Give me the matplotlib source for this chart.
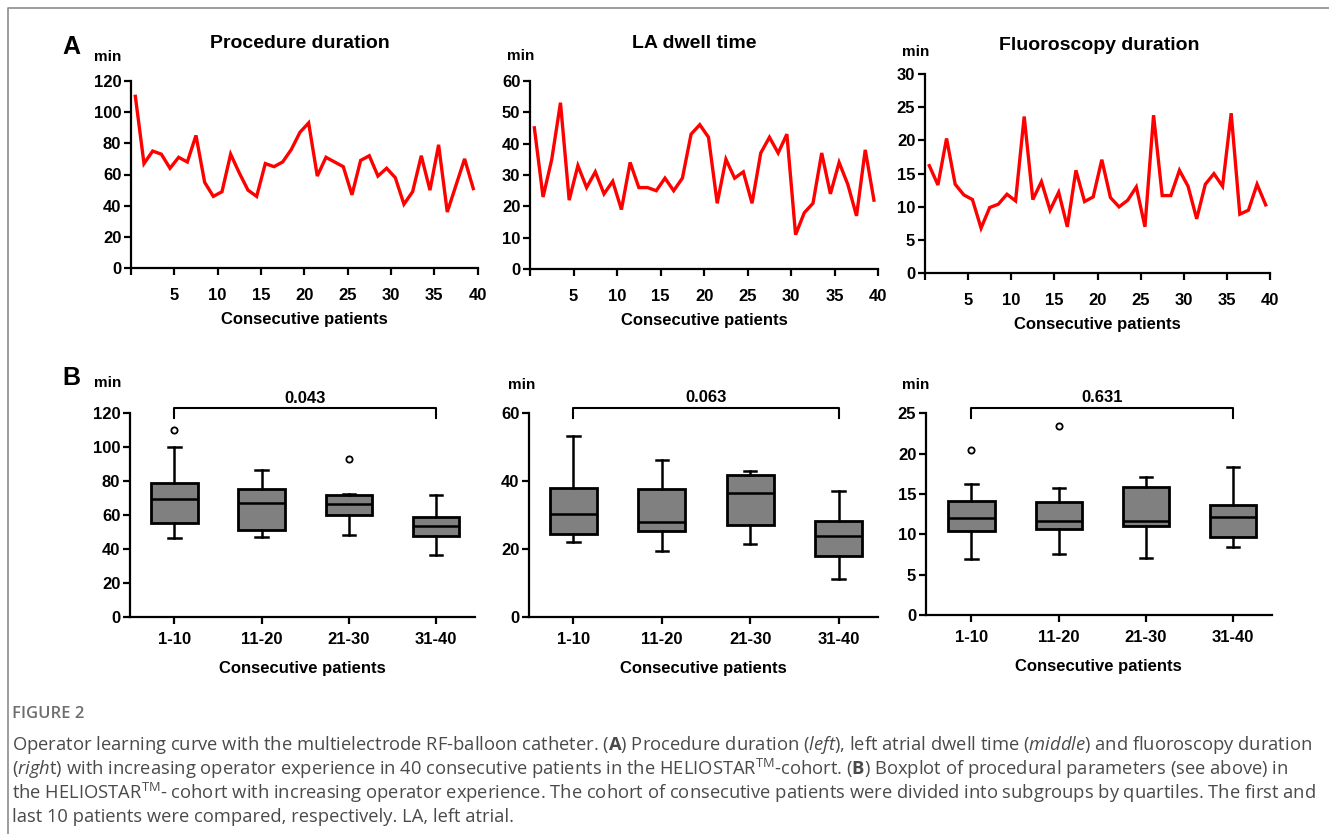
import numpy as np
import matplotlib
matplotlib.use('Agg')
import matplotlib.pyplot as plt
from matplotlib.lines import Line2D

plt.rcParams['font.family'] = ['Liberation Sans', 'DejaVu Sans']
plt.rcParams['mathtext.fontset'] = 'custom'
plt.rcParams['mathtext.rm'] = 'Open Sans'
plt.rcParams['mathtext.it'] = 'Open Sans:italic'
plt.rcParams['mathtext.bf'] = 'Open Sans:bold'

# learning curve, 40 consecutive patients
patients = np.arange(1, 41)
procedure = [110, 67, 75, 73, 64, 71, 68, 85, 55, 46,
             49, 73, 61, 50, 46, 67, 65, 68, 76, 87,
             93, 59, 71, 68, 65, 47, 69, 72, 59, 64,
             58, 41, 49, 72, 50, 79, 36, 53, 70, 51]
la_dwell = [45, 23, 35, 53, 22, 33, 26, 31, 24, 28,
            19, 34, 26, 26, 25, 29, 25, 29, 43, 46,
            42, 21, 35, 29, 31, 21, 37, 42, 37, 43,
            11, 18, 21, 37, 24, 34, 27, 17, 38, 22]
fluoro = [16.2, 13.3, 20.3, 13.4, 11.8, 11.1, 6.8, 9.9, 10.4, 11.9,
          10.9, 23.6, 11.1, 13.8, 9.5, 12.2, 7.0, 15.5, 10.8, 11.5,
          17.1, 11.4, 10.0, 11.0, 13.0, 7.0, 23.8, 11.7, 11.7, 15.5,
          13.1, 8.2, 13.4, 15.0, 13.1, 24.1, 8.9, 9.5, 13.4, 10.3]

# boxplot summaries per quartile group
groups = ['1-10', '11-20', '21-30', '31-40']
proc_whislo = [46.6, 46.8, 48.2, 36.4]
proc_q1 = [55.3, 51.1, 59.8, 47.8]
proc_med = [69.6, 66.9, 66.3, 53.5]
proc_q3 = [79.0, 75.3, 71.8, 58.6]
proc_whishi = [100.0, 86.8, 72.6, 72.0]
proc_fliers = [[110.4], [], [93.0], []]

la_whislo = [22.0, 19.5, 21.3, 11.1]
la_q1 = [24.3, 25.4, 27.1, 17.9]
la_med = [30.3, 27.9, 36.5, 23.9]
la_q3 = [37.9, 37.7, 41.8, 28.2]
la_whishi = [53.4, 46.2, 42.9, 37.1]
la_fliers = [[], [], [], []]

fl_whislo = [6.9, 7.5, 7.1, 8.4]
fl_q1 = [10.4, 10.6, 11.0, 9.7]
fl_med = [12.0, 11.7, 11.7, 12.2]
fl_q3 = [14.1, 14.0, 15.9, 13.6]
fl_whishi = [16.2, 15.8, 17.1, 18.4]
fl_fliers = [[20.4], [23.4], [], []]

p_values = ['0.043', '0.063', '0.631']

W, H = 1329, 834
fig = plt.figure(figsize=(W / 100, H / 100), dpi=100)


def px_axes(x0, x1, ytop, ybot):
    return fig.add_axes([x0 / W, 1 - ybot / H, (x1 - x0) / W, (ybot - ytop) / H])


def style_axes(ax):
    for s in ['top', 'right']:
        ax.spines[s].set_visible(False)
    for s in ['left', 'bottom']:
        ax.spines[s].set_linewidth(1.6)
    ax.tick_params(width=1.6, length=5, labelsize=12, direction='out')
    for lab in ax.get_xticklabels() + ax.get_yticklabels():
        lab.set_fontweight('bold')


# ---- row A: line charts
line_specs = [
    (procedure, 131, 477.6, 80.7, 268.3, 120, 20, 'Procedure duration', 300, 43, 108, 57),
    (la_dwell, 530, 878.3, 80.7, 269.3, 60, 10, 'LA dwell time', 694, 43, 521, 56),
    (fluoro, 925, 1270, 74, 273.3, 30, 5, 'Fluoroscopy duration', 1099, 45, 916, 52),
]
for vals, x0, x1, yt, yb, ymax, ystep, title, tx, ty, mx, my in line_specs:
    ax = px_axes(x0, x1, yt, yb)
    ax.plot(patients - 0.5, vals, color='#ff0000', lw=2.4, solid_joinstyle='miter')
    ax.set_xlim(0, 40)
    ax.set_ylim(0, ymax)
    ax.set_xticks(np.arange(0, 41, 5))
    ax.set_xticklabels([''] + [str(v) for v in range(5, 41, 5)])
    ax.set_yticks(np.arange(0, ymax + 1, ystep))
    style_axes(ax)
    ax.tick_params(axis='x', pad=9)
    ax.tick_params(axis='y', pad=2)
    ax.set_xlabel('Consecutive patients', fontsize=12, fontweight='bold', labelpad=7)
    fig.text(tx / W, 1 - ty / H, title, fontsize=14, fontweight='bold', ha='center', va='center')
    fig.text(mx / W, 1 - my / H, 'min', fontsize=11, fontweight='bold', ha='center', va='center')

# ---- row B: boxplots
box_specs = [
    (proc_whislo, proc_q1, proc_med, proc_q3, proc_whishi, proc_fliers,
     130, 475, 413.3, 616.7, 120, 20, (0.49, 4.45), 122.9, 117, 129, 108, 383),
    (la_whislo, la_q1, la_med, la_q3, la_whishi, la_fliers,
     529.3, 878.3, 413.3, 616.7, 60, 20, (0.5, 4.45), 61.5, 58.5, 64.6, 522, 385),
    (fl_whislo, fl_q1, fl_med, fl_q3, fl_whishi, fl_fliers,
     926, 1271.7, 413.3, 615, 25, 5, (0.48, 4.44), 25.6, 24.45, 26.9, 916, 385),
]
for i, (lo, q1, med, q3, hi, fl, x0, x1, yt, yb, ymax, ystep, xl, br, bre, pty, mx, my) in enumerate(box_specs):
    ax = px_axes(x0, x1, yt, yb)
    stats = [dict(whislo=lo[k], q1=q1[k], med=med[k], q3=q3[k], whishi=hi[k],
                  fliers=fl[k], label=groups[k]) for k in range(4)]
    ax.bxp(stats, positions=[1, 2, 3, 4], widths=0.53, capwidths=0.14, patch_artist=True,
           boxprops=dict(facecolor='#808080', edgecolor='black', linewidth=2),
           whiskerprops=dict(color='black', linewidth=1.8),
           capprops=dict(color='black', linewidth=1.8),
           medianprops=dict(color='black', linewidth=1.8),
           flierprops=dict(marker='o', markersize=4.5, markerfacecolor='white',
                           markeredgecolor='black', markeredgewidth=1.3))
    ax.set_xlim(*xl)
    ax.set_ylim(0, ymax)
    ax.set_yticks(np.arange(0, ymax + 1, ystep))
    style_axes(ax)
    ax.tick_params(axis='x', pad=6)
    ax.tick_params(axis='y', pad=2)
    ax.set_xlabel('Consecutive patients', fontsize=12, fontweight='bold', labelpad=10)
    # significance bracket first vs last group
    ax.plot([1, 1, 4, 4], [bre, br, br, bre], color='black', lw=1.5, clip_on=False)
    ax.text(2.5, pty, p_values[i], fontsize=12, fontweight='bold', ha='center', va='center')
    fig.text(mx / W, 1 - my / H, 'min', fontsize=11, fontweight='bold', ha='center', va='center')

fig.text(71 / W, 1 - 47 / H, 'A', fontsize=18, fontweight='bold', ha='center', va='center')
fig.text(71 / W, 1 - 378 / H, 'B', fontsize=18, fontweight='bold', ha='center', va='center')

# frame lines of the figure box
fig.add_artist(Line2D([8 / W, 8 / W, 1], [0, 1 - 8 / H, 1 - 8 / H], color='#8c8c8c', lw=1.2))

# caption
fig.text(12 / W, 1 - 714 / H, 'FIGURE 2', fontsize=12, color='#6e6e6e', family='Open Sans',
         fontweight='semibold', va='center')
caption = [
    r'Operator learning curve with the multielectrode RF-balloon catheter. ($\mathbf{A}$) Procedure duration ($\mathit{left}$), left atrial dwell time ($\mathit{middle}$) and fluoroscopy duration',
    r'($\mathit{righ}$t) with increasing operator experience in 40 consecutive patients in the HELIOSTAR$^{\mathrm{TM}}$-cohort. ($\mathbf{B}$) Boxplot of procedural parameters (see above) in',
    r'the HELIOSTAR$^{\mathrm{TM}}$- cohort with increasing operator experience. The cohort of consecutive patients were divided into subgroups by quartiles. The first and',
    r'last 10 patients were compared, respectively. LA, left atrial.',
]
for k, line in enumerate(caption):
    fig.text(12 / W, 1 - (745 + 24 * k) / H, line, fontsize=13.2, color='#4a4a4a',
             family='Open Sans', va='center')

fig.savefig('out.png', dpi=100)
